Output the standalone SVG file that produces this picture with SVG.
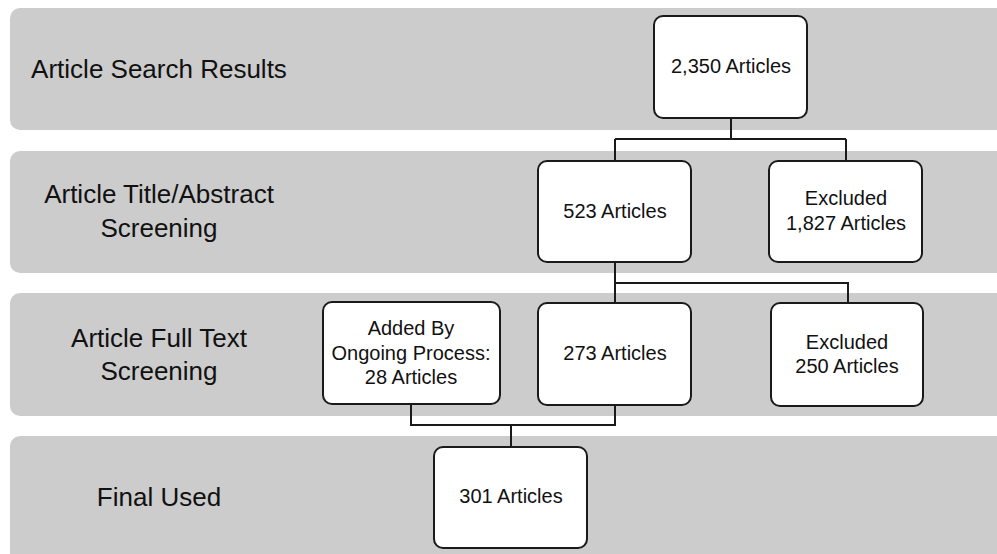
<svg xmlns="http://www.w3.org/2000/svg" width="997" height="554" viewBox="0 0 997 554">
<style>
.band{fill:#cccccc}
.box{fill:#ffffff;stroke:#1a1a1a;stroke-width:2}
.lbl{font-family:"Liberation Sans",Arial,sans-serif;font-size:26px;fill:#111;text-anchor:middle}
.t{font-family:"Liberation Sans",Arial,sans-serif;font-size:20px;fill:#111;text-anchor:middle}
.c{fill:none;stroke:#1a1a1a;stroke-width:2}
</style>
<g id="bands">
<rect class="band" x="10" y="8" width="1000" height="122" rx="10"/>
<rect class="band" x="10" y="151" width="1000" height="122" rx="10"/>
<rect class="band" x="10" y="293" width="1000" height="123" rx="10"/>
<rect class="band" x="10" y="436" width="1000" height="130" rx="10"/>
</g>
<g id="labels">
<text class="lbl" x="159" y="78">Article Search Results</text>
<text class="lbl" x="159" y="203">Article Title/Abstract</text>
<text class="lbl" x="159" y="237">Screening</text>
<text class="lbl" x="159" y="347">Article Full Text</text>
<text class="lbl" x="159" y="380">Screening</text>
<text class="lbl" x="159" y="506">Final Used</text>
</g>
<g id="connectors">
<path class="c" d="M731 118 V139 M615 139 H846 M615 139 V161 M846 139 V161"/>
<path class="c" d="M615 262 V303 M615 283 H848 V303"/>
<path class="c" d="M615 405 V425 H411 V404 M511 425 V447"/>
</g>
<g id="n2350"><rect class="box" x="654" y="16" width="153" height="102" rx="9"/><text class="t" x="731" y="73">2,350 Articles</text></g>
<g id="n523"><rect class="box" x="538" y="161" width="153" height="101" rx="9"/><text class="t" x="615" y="218">523 Articles</text></g>
<g id="nExcl1"><rect class="box" x="769" y="161" width="153" height="101" rx="9"/><text class="t" x="846" y="205">Excluded</text><text class="t" x="846" y="230">1,827 Articles</text></g>
<g id="nAdded"><rect class="box" x="323" y="302" width="177" height="102" rx="9"/><text class="t" x="411" y="335">Added By</text><text class="t" x="411" y="360">Ongoing Process:</text><text class="t" x="411" y="384">28 Articles</text></g>
<g id="n273"><rect class="box" x="538" y="303" width="153" height="102" rx="9"/><text class="t" x="615" y="360">273 Articles</text></g>
<g id="nExcl2"><rect class="box" x="771" y="303" width="152" height="103" rx="9"/><text class="t" x="847" y="349">Excluded</text><text class="t" x="847" y="373">250 Articles</text></g>
<g id="n301"><rect class="box" x="434" y="447" width="153" height="101" rx="9"/><text class="t" x="511" y="503">301 Articles</text></g>
</svg>
